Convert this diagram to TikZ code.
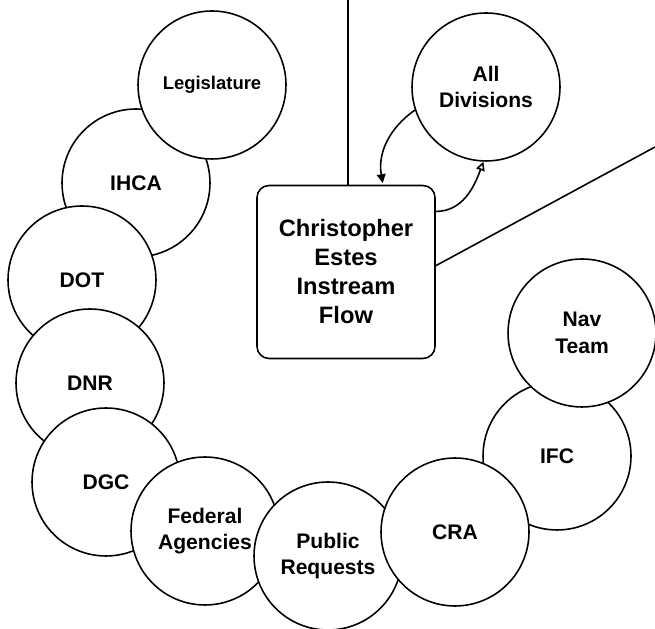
\documentclass[tikz,border=0pt]{standalone}
\usepackage{fontspec}
\setmainfont{Liberation Sans}
\usetikzlibrary{arrows.meta}
\tikzset{agency/.style={circle, draw=black, fill=white, line width=0.9pt, minimum size=2.96cm, inner sep=0pt, align=center, font=\bfseries\fontsize{12}{15}\selectfont},
	hub/.style={rectangle, rounded corners=0.24cm, draw=black, fill=white, line width=0.9pt, minimum width=3.56cm, minimum height=3.46cm, align=center, font=\bfseries\fontsize{13.5}{16.5}\selectfont},
	tolink/.style={line width=0.9pt, -{Triangle[length=5pt,width=5pt]}, shorten >=1pt},
	fromlink/.style={line width=0.9pt, -{Triangle[open,length=5pt,width=5pt]}}}

\begin{document}
\begin{tikzpicture}[x=0.02cm,y=0.02cm]
		\useasboundingbox (0,0) rectangle (655,628);
		\node[hub] (ifbox) at (346,356) {Christopher\\Estes\\Instream\\Flow}; %the middle box
		\node[agency] (alldiv) at (486,541) {All\\Divisions};
		\coordinate (topend) at (348,628);
		\coordinate (rightend) at (655,481);
		\draw[line width=0.9pt] (topend) -- (topend |- ifbox.north); %line up to the page edge
		\draw[line width=0.9pt] (ifbox.4) -- (rightend); %line out to the right
		\draw[tolink] (alldiv.198) to[out=215,in=100] (ifbox.67); %division to box
		\draw[fromlink] (ifbox.34) to[out=0,in=-110] (alldiv.268); %box to division
		\foreach \pos/\name/\txt in {{(136,445)}/ihca/IHCA, {(212,543)}/legis/{\fontsize{10.5}{13}\selectfont Legislature},
			{(82,348)}/dot/DOT, {(90,245)}/dnr/DNR, {(106,146)}/dgc/DGC, {(205,97)}/fed/{Federal\\Agencies},
			{(328,72)}/pub/{Public\\Requests}, {(557,172)}/ifc/IFC, {(582,295)}/nav/{Nav\\Team}, {(455,96)}/cra/CRA}
		\node[agency] (\name) at \pos {\txt}; %ring of agencies, later ones on top
	\end{tikzpicture}
\end{document}
